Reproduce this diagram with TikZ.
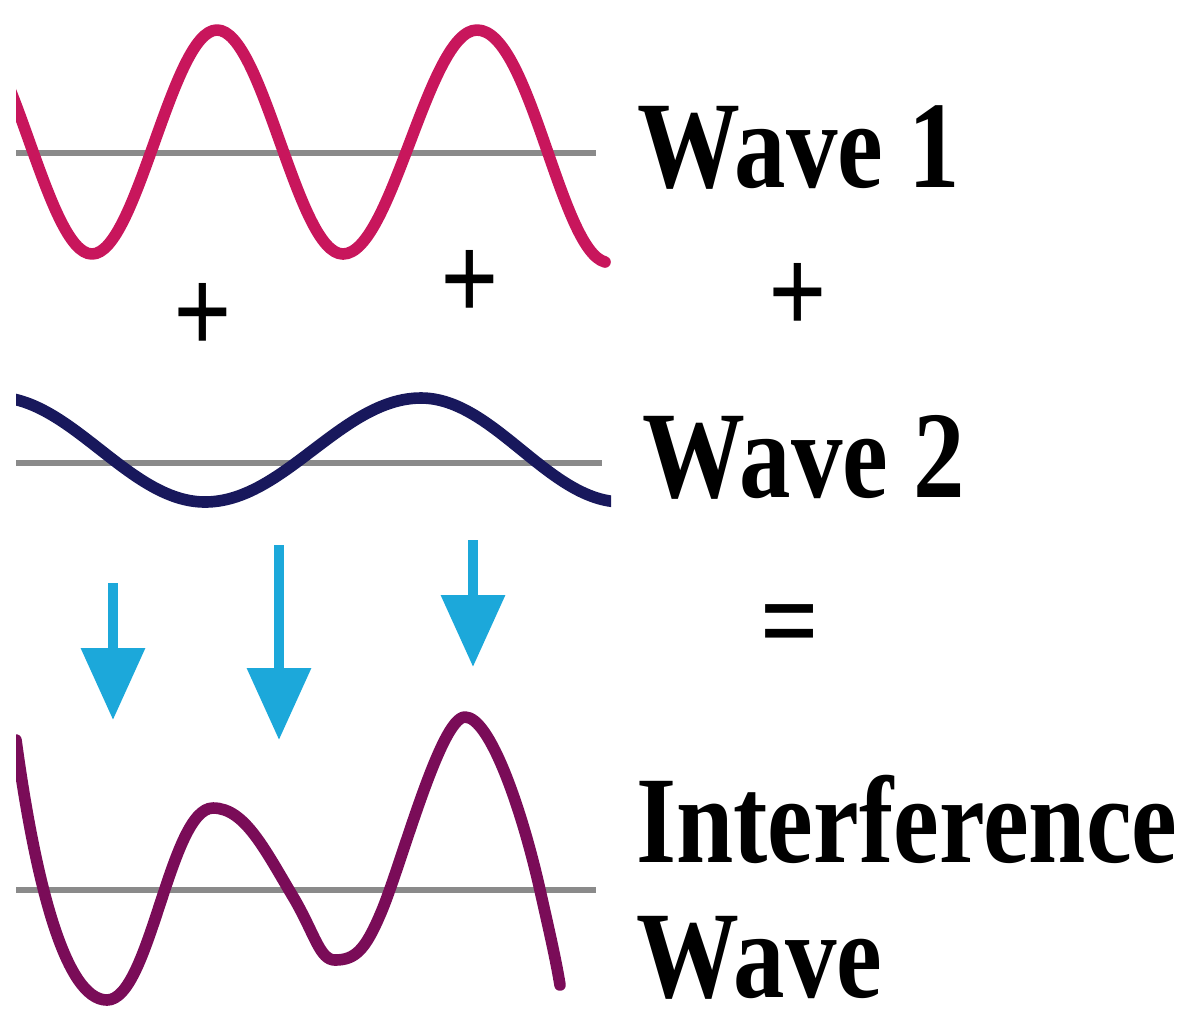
\documentclass[tikz,border=0pt]{standalone}
\usepackage{fontspec}
\setmainfont{Liberation Serif}[FakeStretch=0.83]
\usepackage{tikz}
\usetikzlibrary{arrows.meta}
\definecolor{waveone}{RGB}{200,22,92}
\definecolor{wavetwo}{RGB}{24,24,92}
\definecolor{wavesum}{RGB}{122,12,88}
\definecolor{arrowblue}{RGB}{28,168,218}
\definecolor{axisgray}{RGB}{138,138,138}

\begin{document}
\begin{tikzpicture}[x=0.5pt,y=-0.5pt,
  >={Triangle[length=36pt,width=31pt]},
  wave/.style={line width=5.8pt,line cap=round,line join=round},
  axis/.style={draw=axisgray,line width=3pt},
  arr/.style={->,draw=arrowblue,line width=5pt},
  lbl/.style={font=\fontsize{62}{67.5}\selectfont\bfseries,inner sep=0pt,anchor=base west},
  sym/.style={font=\fontsize{62}{62}\selectfont\bfseries,inner sep=0pt}]
  \useasboundingbox (0,0) rectangle (1192,1014);
  % zero lines
  \draw[axis] (16,153) -- (596,153);
  \draw[axis] (16,463) -- (602,463);
  \draw[axis] (16,890) -- (596,890);
  \begin{scope}
    \clip (16,0) rectangle (611,1014);
    % wave 1
    \draw[wave,waveone] (-33,30) .. controls +(45,0) and +(-45,0) .. (92,254)
      .. controls +(45,0) and +(-45,0) .. (217,30)
      .. controls +(46,0) and +(-46,0) .. (343,254)
      .. controls +(49,0) and +(-49,0) .. (477,30)
      .. controls (530,30) and (560,250) .. (605,262);
    % wave 2
    \draw[wave,wavetwo] (-5,397) .. controls +(76,0) and +(-76,0) .. (205,502)
      .. controls +(79,0) and +(-79,0) .. (421,398)
      .. controls +(73,0) and +(-73,0) .. (622,502);
    % sum of both
    \draw[wave,wavesum] (16,740) .. controls (35,880) and (65,1000) .. (107,1000)
      .. controls (150,1000) and (170,808) .. (213,808)
      .. controls (245,808) and (265,850) .. (295,900)
      .. controls (315,935) and (320,960) .. (335,960)
      .. controls (355,960) and (365,950) .. (380,915)
      .. controls (400,870) and (440,717) .. (465,717)
      .. controls (490,717) and (522,810) .. (540,890)
      .. controls (549,930) and (556,960) .. (560,985);
  \end{scope}
  % arrows
  \coordinate (ta) at (113,583); \coordinate (ha) at (113,720);
  \coordinate (tb) at (279,545); \coordinate (hb) at (279,740);
  \coordinate (tc) at (473,540); \coordinate (hc) at (473,667);
  \draw[arr] (ta) -- (ha);
  \draw[arr] (tb) -- (hb);
  \draw[arr] (tc) -- (hc);
  % signs
  \node[sym] (plusa) at (203,318) {+};
  \node[sym] (plusb) at (470,285) {+};
  \node[sym] (plusc) at (798,298) {+};
  \node[sym] (eq) at (790,634) {=};
  % labels
  \node[lbl] (lblone) at (637,187) {Wave 1};
  \node[lbl] (lbltwo) at (642,497) {Wave 2};
  \node[lbl,align=left] (lblsum) at (636,997) {Interference\\Wave};
\end{tikzpicture}
\end{document}
